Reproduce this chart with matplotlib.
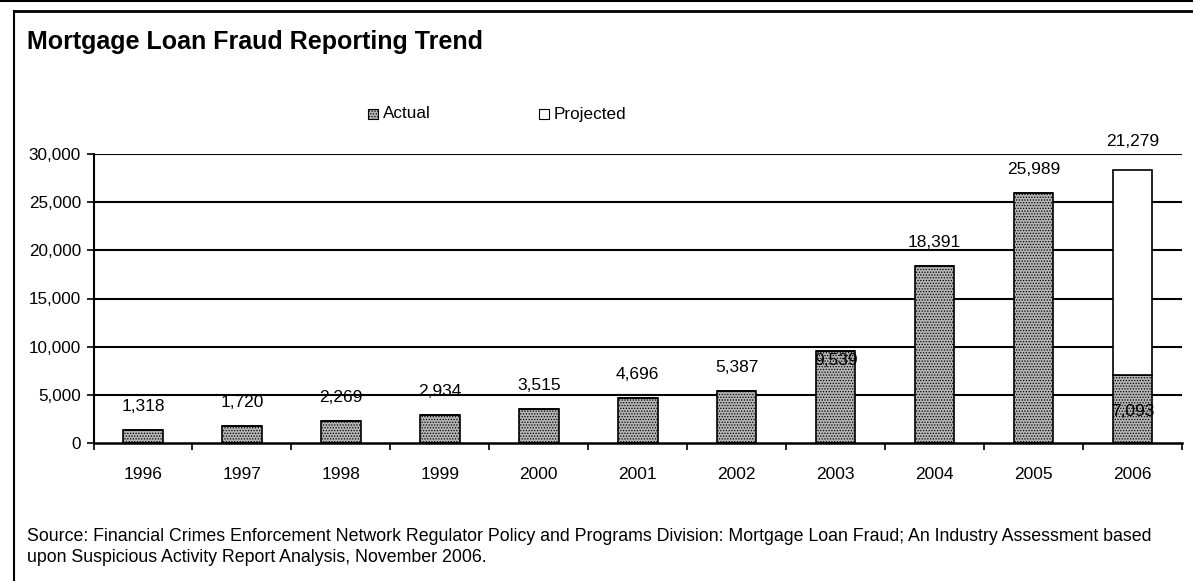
import matplotlib.pyplot as plt
from matplotlib.patches import Rectangle
from matplotlib.lines import Line2D

plt.rcParams['font.family'] = ['Liberation Sans', 'DejaVu Sans']
plt.rcParams['hatch.linewidth'] = 0.6

years = ['1996', '1997', '1998', '1999', '2000', '2001', '2002', '2003', '2004', '2005', '2006']
actual = [1318, 1720, 2269, 2934, 3515, 4696, 5387, 9539, 18391, 25989, 7093]
projected = [0, 0, 0, 0, 0, 0, 0, 0, 0, 0, 21279]
yticks = [0, 5000, 10000, 15000, 20000, 25000, 30000]

W, H = 1193, 581
fig = plt.figure(figsize=(W / 100, H / 100), dpi=100)

# page frame around the exhibit
fig.add_artist(Line2D([14 / W, 1], [1 - 11 / H, 1 - 11 / H], color='black', lw=2))
fig.add_artist(Line2D([14 / W, 14 / W], [0, 1 - 11 / H], color='black', lw=1.5))
fig.add_artist(Line2D([0, 1], [1 - 1 / H, 1 - 1 / H], color='black', lw=1.5))

ax = fig.add_axes([93.5 / W, 1 - 443 / H, (1182 - 93.5) / W, (443 - 154) / H])

x = list(range(len(years)))
bar_w = 0.40
gray = dict(facecolor='#b4b4b4', edgecolor='black', hatch='......', linewidth=1.2)
ax.bar(x, actual, width=bar_w, zorder=3, **gray)
ax.bar(x, projected, width=bar_w, bottom=actual, zorder=3,
       facecolor='white', edgecolor='black', linewidth=1.2)

ax.set_xlim(-0.5, len(years) - 0.5)
ax.set_ylim(0, 30000)
ax.set_yticks(yticks)
ax.set_yticklabels([f'{v:,}' for v in yticks], fontsize=12.3)
for v in yticks[1:]:
    ax.axhline(v, color='black', lw=1.5, zorder=1)

ax.set_xticks([i + 0.5 for i in x[:-1]] + [-0.5, len(years) - 0.5])
ax.set_xticklabels([])
ax.tick_params(axis='x', direction='out', length=5, width=1.2)
ax.tick_params(axis='y', direction='out', length=5, width=1.2, pad=4)
for i, yr in enumerate(years):
    ax.annotate(yr, (i, 0), xytext=(0, -23), textcoords='offset points',
                ha='center', va='center', fontsize=12.5)

for s in ['top', 'right']:
    ax.spines[s].set_visible(False)
ax.spines['left'].set_linewidth(1.5)
ax.spines['bottom'].set_linewidth(1.8)
ax.spines['bottom'].set_zorder(4)

# data labels
for i, (a, p) in enumerate(zip(actual, projected)):
    if p:
        ax.annotate(f'{p:,}', (i, a + p), xytext=(0, 20), textcoords='offset points',
                    ha='center', va='center', fontsize=12.5, zorder=5)
        ax.annotate(f'{a:,}', (i, a / 2), xytext=(0, -2), textcoords='offset points',
                    ha='center', va='center', fontsize=12.5, zorder=5)
    else:
        off = -7 if years[i] == '2003' else 17
        ax.annotate(f'{a:,}', (i, a), xytext=(0, off), textcoords='offset points',
                    ha='center', va='center', fontsize=12.5, zorder=5)

# title
fig.text(27 / W, 1 - 42 / H, 'Mortgage Loan Fraud Reporting Trend',
         fontsize=18, fontweight='bold', va='center', ha='left')

# legend
fig.add_artist(Rectangle((368 / W, 1 - 119 / H), 10 / W, 10 / H, transform=fig.transFigure,
                         **dict(gray, linewidth=0.8)))
fig.text(383 / W, 1 - 114 / H, 'Actual', fontsize=12.3, va='center', ha='left')
fig.add_artist(Rectangle((539 / W, 1 - 119 / H), 10 / W, 10 / H, transform=fig.transFigure,
                         facecolor='white', edgecolor='black', linewidth=0.8))
fig.text(554 / W, 1 - 114 / H, 'Projected', fontsize=12.3, va='center', ha='left')

fig.text(27 / W, 1 - 528 / H,
         'Source: Financial Crimes Enforcement Network Regulator Policy and Programs Division: '
         'Mortgage Loan Fraud; An Industry Assessment based\n'
         'upon Suspicious Activity Report Analysis, November 2006.',
         fontsize=12.8, va='top', ha='left', linespacing=1.3)

fig.savefig('out.png', dpi=100)
